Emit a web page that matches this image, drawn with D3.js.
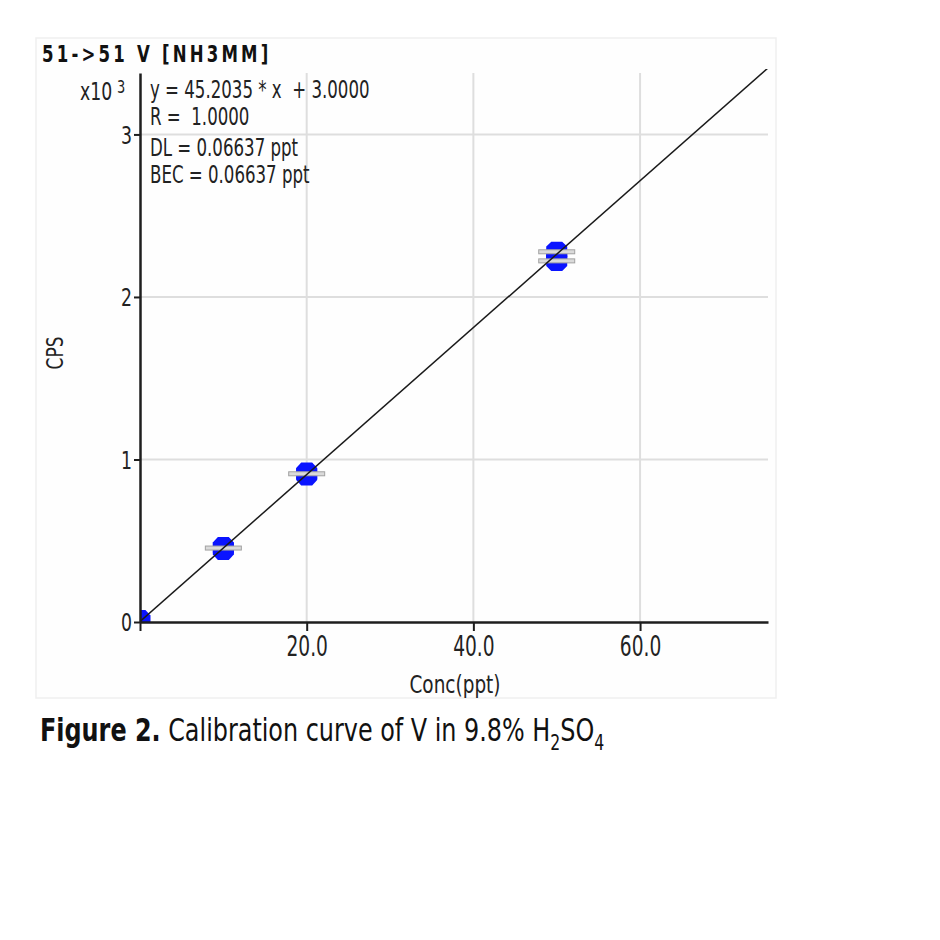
<!DOCTYPE html>
<html>
<head>
<meta charset="utf-8">
<script src="https://cdn.jsdelivr.net/npm/d3@7/dist/d3.min.js"></script>
<style>
  html, body { margin: 0; padding: 0; background: #ffffff; }
  svg { display: block; }
  text { font-family: "DejaVu Sans Condensed", "DejaVu Sans", sans-serif; }
</style>
</head>
<body>
<svg id="chart" width="940" height="940"></svg>
<script>
// ---- data ----
const title = "51->51 V [NH3MM]";
const concs = [0, 10, 20, 50];               // Conc (ppt)
const cps = [3, 452, 911, 2250];             // CPS
const replicates = [[], [455], [912], [2278, 2222]];
const slope = 45.2035;
const intercept = 3.0;
const xTicks = [0, 20, 40, 60];
const xTickLabels = ["", "20.0", "40.0", "60.0"];
const yTicks = [0, 1000, 2000, 3000];
const yTickLabels = ["0", "1", "2", "3"];
const eqLines = ["y = 45.2035 * x  + 3.0000", "R =  1.0000", "DL = 0.06637 ppt", "BEC = 0.06637 ppt"];
const xLabel = "Conc(ppt)";
const yLabel = "CPS";

// ---- layout ----
const svg = d3.select("#chart");
const pLeft = 140, pRight = 768, pTop = 73, pBottom = 622;
const x = d3.scaleLinear().domain([0, 75.35]).range([pLeft, pRight]);
const y = d3.scaleLinear().domain([0, 3378]).range([pBottom, pTop]);

// narrow text helper
function nText(parent, tx, ty, str, size, sx, anchor) {
  const t = parent.append("text")
    .attr("transform", `translate(${tx},${ty}) scale(${sx},1)`)
    .attr("font-size", size).attr("fill", "#222")
    .attr("text-anchor", anchor || "start")
    .style("white-space", "pre");
  if (str !== null) t.text(str);
  return t;
}

// faint panel
svg.append("rect").attr("x", 36).attr("y", 38).attr("width", 740).attr("height", 660)
  .attr("fill", "#fefefe").attr("stroke", "#efefef").attr("stroke-width", 1.5);

// title
nText(svg, 42, 62, title, 23, 0.8).attr("font-weight", "bold")
  .attr("letter-spacing", 4).attr("fill", "#111").attr("font-family", "DejaVu Sans");

// gridlines
const grid = svg.append("g");
grid.selectAll("line.v").data(xTicks.filter(d => d > 0)).join("line")
  .attr("x1", d => x(d)).attr("x2", d => x(d)).attr("y1", pTop).attr("y2", pBottom)
  .attr("stroke", "#dedede").attr("stroke-width", 2);
grid.selectAll("line.h").data(yTicks.filter(d => d > 0)).join("line")
  .attr("x1", pLeft).attr("x2", pRight).attr("y1", d => y(d)).attr("y2", d => y(d))
  .attr("stroke", "#dedede").attr("stroke-width", 2);

// clip
svg.append("clipPath").attr("id", "plotclip").append("rect")
  .attr("x", pLeft).attr("y", pTop - 4).attr("width", pRight - pLeft).attr("height", pBottom - pTop + 4);
const plot = svg.append("g").attr("clip-path", "url(#plotclip)");

// octagon markers
function octagon(cx, cy, w, h) {
  const a = w / 2, b = h / 2, c = w * 0.24, e = h * 0.24;
  const p = d3.path();
  p.moveTo(cx - a + c, cy - b);
  p.lineTo(cx + a - c, cy - b);
  p.lineTo(cx + a, cy - b + e);
  p.lineTo(cx + a, cy + b - e);
  p.lineTo(cx + a - c, cy + b);
  p.lineTo(cx - a + c, cy + b);
  p.lineTo(cx - a, cy + b - e);
  p.lineTo(cx - a, cy - b + e);
  p.closePath();
  return p.toString();
}
const pts = concs.map((c, i) => ({ c, v: cps[i], reps: replicates[i] }));
const reps = pts.flatMap(d => d.reps.map(r => ({ c: d.c, r })));
plot.selectAll("path.pt").data(pts).join("path")
  .attr("d", d => octagon(x(d.c), y(d.v), 21, 23))
  .attr("fill", "#0a14ff");
plot.selectAll("path.rp").data(reps).join("path")
  .attr("d", d => octagon(x(d.c), y(d.r), 21, 20))
  .attr("fill", "#0a14ff");

// replicate bars
plot.selectAll("rect.rep").data(reps).join("rect")
  .attr("x", d => x(d.c) - 18).attr("y", d => y(d.r) - 2)
  .attr("width", 36).attr("height", 4)
  .attr("fill", "#dadada").attr("stroke", "#a2a2a2").attr("stroke-width", 1);

// fitted line
const xMax = x.domain()[1];
plot.append("line")
  .attr("x1", x(0)).attr("y1", y(intercept))
  .attr("x2", x(xMax)).attr("y2", y(slope * xMax + intercept))
  .attr("stroke", "#1a1a1a").attr("stroke-width", 1.5);

// axes
const xAxis = d3.axisBottom(x).tickValues(xTicks).tickFormat((d, i) => xTickLabels[i])
  .tickSize(9).tickSizeOuter(0).tickPadding(5);
const yAxis = d3.axisLeft(y).tickValues(yTicks).tickFormat((d, i) => yTickLabels[i])
  .tickSize(6).tickSizeOuter(0).tickPadding(3);

const gx = svg.append("g").attr("transform", `translate(0,${pBottom})`).call(xAxis);
const gy = svg.append("g").attr("transform", `translate(${pLeft},0)`).call(yAxis);
[gx, gy].forEach(g => {
  g.select(".domain").attr("stroke", "#1e1e1e").attr("stroke-width", 2.5);
  g.selectAll(".tick line").attr("stroke", "#1e1e1e").attr("stroke-width", 2);
  g.selectAll(".tick text").attr("fill", "#222")
    .attr("font-family", "DejaVu Sans Condensed, DejaVu Sans, sans-serif");
});
gx.selectAll(".tick text").attr("font-size", 28).attr("dy", "0.71em")
  .attr("transform", "scale(0.74,1)");
gy.selectAll(".tick text").attr("font-size", 24).attr("dy", "0.36em")
  .attr("x", -8 / 0.8).attr("transform", "scale(0.8,1)");

// multiplier label
const mult = nText(svg, 80, 100, null, 24, 0.8);
mult.append("tspan").text("x10");
mult.append("tspan").attr("dx", 6).attr("dy", -7).attr("font-size", 18).text("3");

// equation text
eqLines.forEach((s, i) => nText(svg, 150, [98, 125, 156, 183][i], s, 24, 0.77));

// axis titles
nText(svg, 455, 693, xLabel, 25, 0.82, "middle");
svg.append("text")
  .attr("transform", "translate(63,353) rotate(-90) scale(0.82,1)")
  .attr("text-anchor", "middle").attr("font-size", 23).attr("fill", "#222").text(yLabel);

// caption
const cap = nText(svg, 40, 741, null, 32, 0.83).attr("fill", "#111");
cap.append("tspan").attr("font-weight", "bold").text("Figure 2.");
cap.append("tspan").text(" Calibration curve of V in 9.8% H");
cap.append("tspan").attr("font-size", 21).attr("dy", 9).text("2");
cap.append("tspan").attr("dy", -9).text("SO");
cap.append("tspan").attr("font-size", 21).attr("dy", 9).text("4");
</script>
</body>
</html>
